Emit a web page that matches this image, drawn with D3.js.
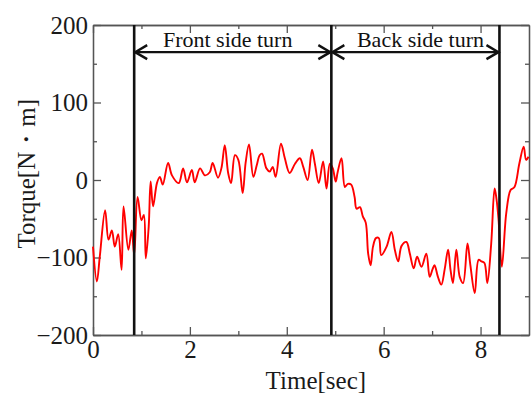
<!DOCTYPE html>
<html>
<head>
<meta charset="utf-8">
<script src="https://cdn.jsdelivr.net/npm/d3@7"></script>
<style>
  body { margin: 0; background: #fff; }
  svg { display: block; font-family: 'Liberation Serif', 'Times New Roman', serif; }
</style>
</head>
<body>
<div id="chart"></div>
<script>
const width = 531;
const height = 398;
const marginLeft = 93;
const marginRight = 2;
const marginTop = 25;
const marginBottom = 63;

const lineColor = 'red';
const fontSize = '25px';

// torque trace
const times = [
  0.0, 0.08, 0.14, 0.25, 0.32, 0.39, 0.45, 0.52, 0.59, 0.63, 0.73, 0.8, 0.85,
  0.92, 1.0, 1.05, 1.09, 1.15, 1.19, 1.24, 1.32, 1.38, 1.44, 1.55, 1.63, 1.77,
  1.86, 1.94, 2.04, 2.1, 2.21, 2.31, 2.41, 2.47, 2.58, 2.65, 2.72, 2.79, 2.85,
  2.93, 3.0, 3.09, 3.15, 3.22, 3.31, 3.38, 3.44, 3.49, 3.58, 3.65, 3.71, 3.77,
  3.88, 3.96, 4.06, 4.17, 4.27, 4.34, 4.43, 4.52, 4.58, 4.66, 4.75, 4.82, 4.89,
  4.95, 5.01, 5.05, 5.13, 5.2, 5.26, 5.33, 5.4, 5.44, 5.51, 5.57, 5.63, 5.68,
  5.73, 5.78, 5.84, 5.9, 5.95, 6.06, 6.16, 6.23, 6.3, 6.37, 6.47, 6.54, 6.62,
  6.69, 6.78, 6.88, 6.95, 7.01, 7.05, 7.12, 7.19, 7.26, 7.33, 7.38, 7.43, 7.5,
  7.57, 7.64, 7.73, 7.79, 7.88, 7.96, 8.02, 8.08, 8.14, 8.22, 8.29, 8.33, 8.37,
  8.44, 8.53, 8.62, 8.7, 8.8, 8.89, 8.94, 8.99,
];
const torque = [
  -86, -131, -99, -39, -77, -65, -86, -70, -116, -34, -90, -65, -97,
  -22, -52, -45, -101, -60, -2, -34, -4, 4, -6, 22, 6, -4,
  15, -3, 13, -3, 15, 6, 10, 22, 3, 15, 45, 9, -4,
  32, 26, -17, 22, 46, 4, 19, 32, 34, 15, 11, 17, 4,
  47, 28, 9, 21, 28, 17, 0, 39, 21, -4, 24, -11, 21,
  15, -2, 10, 28, -9, -5, -6, -22, -37, -35, -47, -55, -95,
  -110, -86, -75, -75, -97, -86, -67, -90, -105, -85, -80, -95, -114,
  -99, -112, -95, -125, -115, -110, -125, -135, -115, -90, -116, -133, -90,
  -125, -133, -82, -110, -146, -103, -105, -107, -133, -82, -11, -25, -50,
  -112, -43, -13, -9, 21, 43, 26, 30,
];

// phase boundaries and labels
const phaseLines = [0.85, 4.92, 8.39];
const phaseLabels = ['Front side turn', 'Back side turn'];
const labelTimes = [2.78, 6.76];
const arrowTorque = 165;

const xTicks = [0, 2, 4, 6, 8];
const xMinorTicks = [1, 3, 5, 7];
const yTicks = [-200, -100, 0, 100, 200];
const yMinorTicks = [-150, -50, 50, 150];

const data = times.map((t, i) => ({ t: t, v: torque[i] }));

const svg = d3
  .select('#chart')
  .append('svg')
  .attr('width', width)
  .attr('height', height);

const xScale = d3
  .scaleLinear()
  .domain([0, 9])
  .range([marginLeft, width - marginRight]);

const yScale = d3
  .scaleLinear()
  .domain([-200, 200])
  .range([height - marginBottom, marginTop]);

// axes, ticks pointing inward
const addAxis = (axis, transform) => {
  const g = svg.append('g').attr('transform', transform).call(axis);
  g.selectAll('path, line').attr('stroke', '#555').attr('stroke-width', 1.3);
  g.selectAll('text')
    .attr('fill', '#1a1a1a')
    .style('font-size', fontSize)
    .style('font-family', "'Liberation Serif', serif");
  return g;
};

const atBottom = `translate(0, ${height - marginBottom})`;
const atTop = `translate(0, ${marginTop})`;
const atLeft = `translate(${marginLeft}, 0)`;
const atRight = `translate(${width - marginRight}, 0)`;

addAxis(d3.axisBottom(xScale).tickValues(xTicks).tickSizeInner(-8).tickSizeOuter(0).tickPadding(5), atBottom);
addAxis(d3.axisBottom(xScale).tickValues(xMinorTicks).tickSizeInner(-4).tickSizeOuter(0).tickFormat(''), atBottom);
addAxis(d3.axisTop(xScale).tickValues(xTicks).tickSizeInner(-8).tickSizeOuter(0).tickFormat(''), atTop);
addAxis(d3.axisTop(xScale).tickValues(xMinorTicks).tickSizeInner(-4).tickSizeOuter(0).tickFormat(''), atTop);
addAxis(d3.axisLeft(yScale).tickValues(yTicks).tickSizeInner(-8).tickSizeOuter(0).tickPadding(5), atLeft);
addAxis(d3.axisLeft(yScale).tickValues(yMinorTicks).tickSizeInner(-4).tickSizeOuter(0).tickFormat(''), atLeft);
addAxis(d3.axisRight(yScale).tickValues(yTicks).tickSizeInner(-8).tickSizeOuter(0).tickFormat(''), atRight);
addAxis(d3.axisRight(yScale).tickValues(yMinorTicks).tickSizeInner(-4).tickSizeOuter(0).tickFormat(''), atRight);

// torque line
const line = d3
  .line()
  .curve(d3.curveCatmullRom.alpha(0.5))
  .x((d) => xScale(d.t))
  .y((d) => yScale(d.v));

svg
  .append('path')
  .datum(data)
  .attr('fill', 'none')
  .attr('stroke', lineColor)
  .attr('stroke-width', 1.9)
  .attr('stroke-linejoin', 'round')
  .attr('d', line);

// phase boundaries
svg
  .append('g')
  .selectAll('line')
  .data(phaseLines)
  .enter()
  .append('line')
  .attr('x1', (d) => xScale(d))
  .attr('x2', (d) => xScale(d))
  .attr('y1', yScale(200))
  .attr('y2', yScale(-200))
  .attr('stroke', '#111')
  .attr('stroke-width', 2.6);

// double-headed arrows between boundaries
const arrowY = yScale(arrowTorque);
const head = 12;
const halfH = 7;
const arrows = svg.append('g').attr('stroke', '#111').attr('stroke-width', 2.4).attr('fill', 'none');
phaseLabels.forEach((label, i) => {
  const x0 = xScale(phaseLines[i]) + 1;
  const x1 = xScale(phaseLines[i + 1]) - 1;
  arrows.append('line').attr('x1', x0).attr('x2', x1).attr('y1', arrowY).attr('y2', arrowY);
  arrows
    .append('path')
    .attr('d', `M${x0 + head},${arrowY - halfH}L${x0},${arrowY}L${x0 + head},${arrowY + halfH}`);
  arrows
    .append('path')
    .attr('d', `M${x1 - head},${arrowY - halfH}L${x1},${arrowY}L${x1 - head},${arrowY + halfH}`);
  svg
    .append('text')
    .attr('x', xScale(labelTimes[i]))
    .attr('y', arrowY - 5)
    .attr('text-anchor', 'middle')
    .attr('fill', '#111')
    .style('font-size', '22px')
    .text(label);
});

// axis titles
svg
  .append('text')
  .attr('x', xScale(4.6))
  .attr('y', height - 9)
  .attr('text-anchor', 'middle')
  .attr('fill', '#1a1a1a')
  .style('font-size', fontSize)
  .text('Time[sec]');

svg
  .append('text')
  .attr('transform', `translate(35, ${yScale(8)}) rotate(-90)`)
  .attr('text-anchor', 'middle')
  .attr('fill', '#1a1a1a')
  .style('font-size', fontSize)
  .text('Torque[N・m]');
</script>
</body>
</html>
